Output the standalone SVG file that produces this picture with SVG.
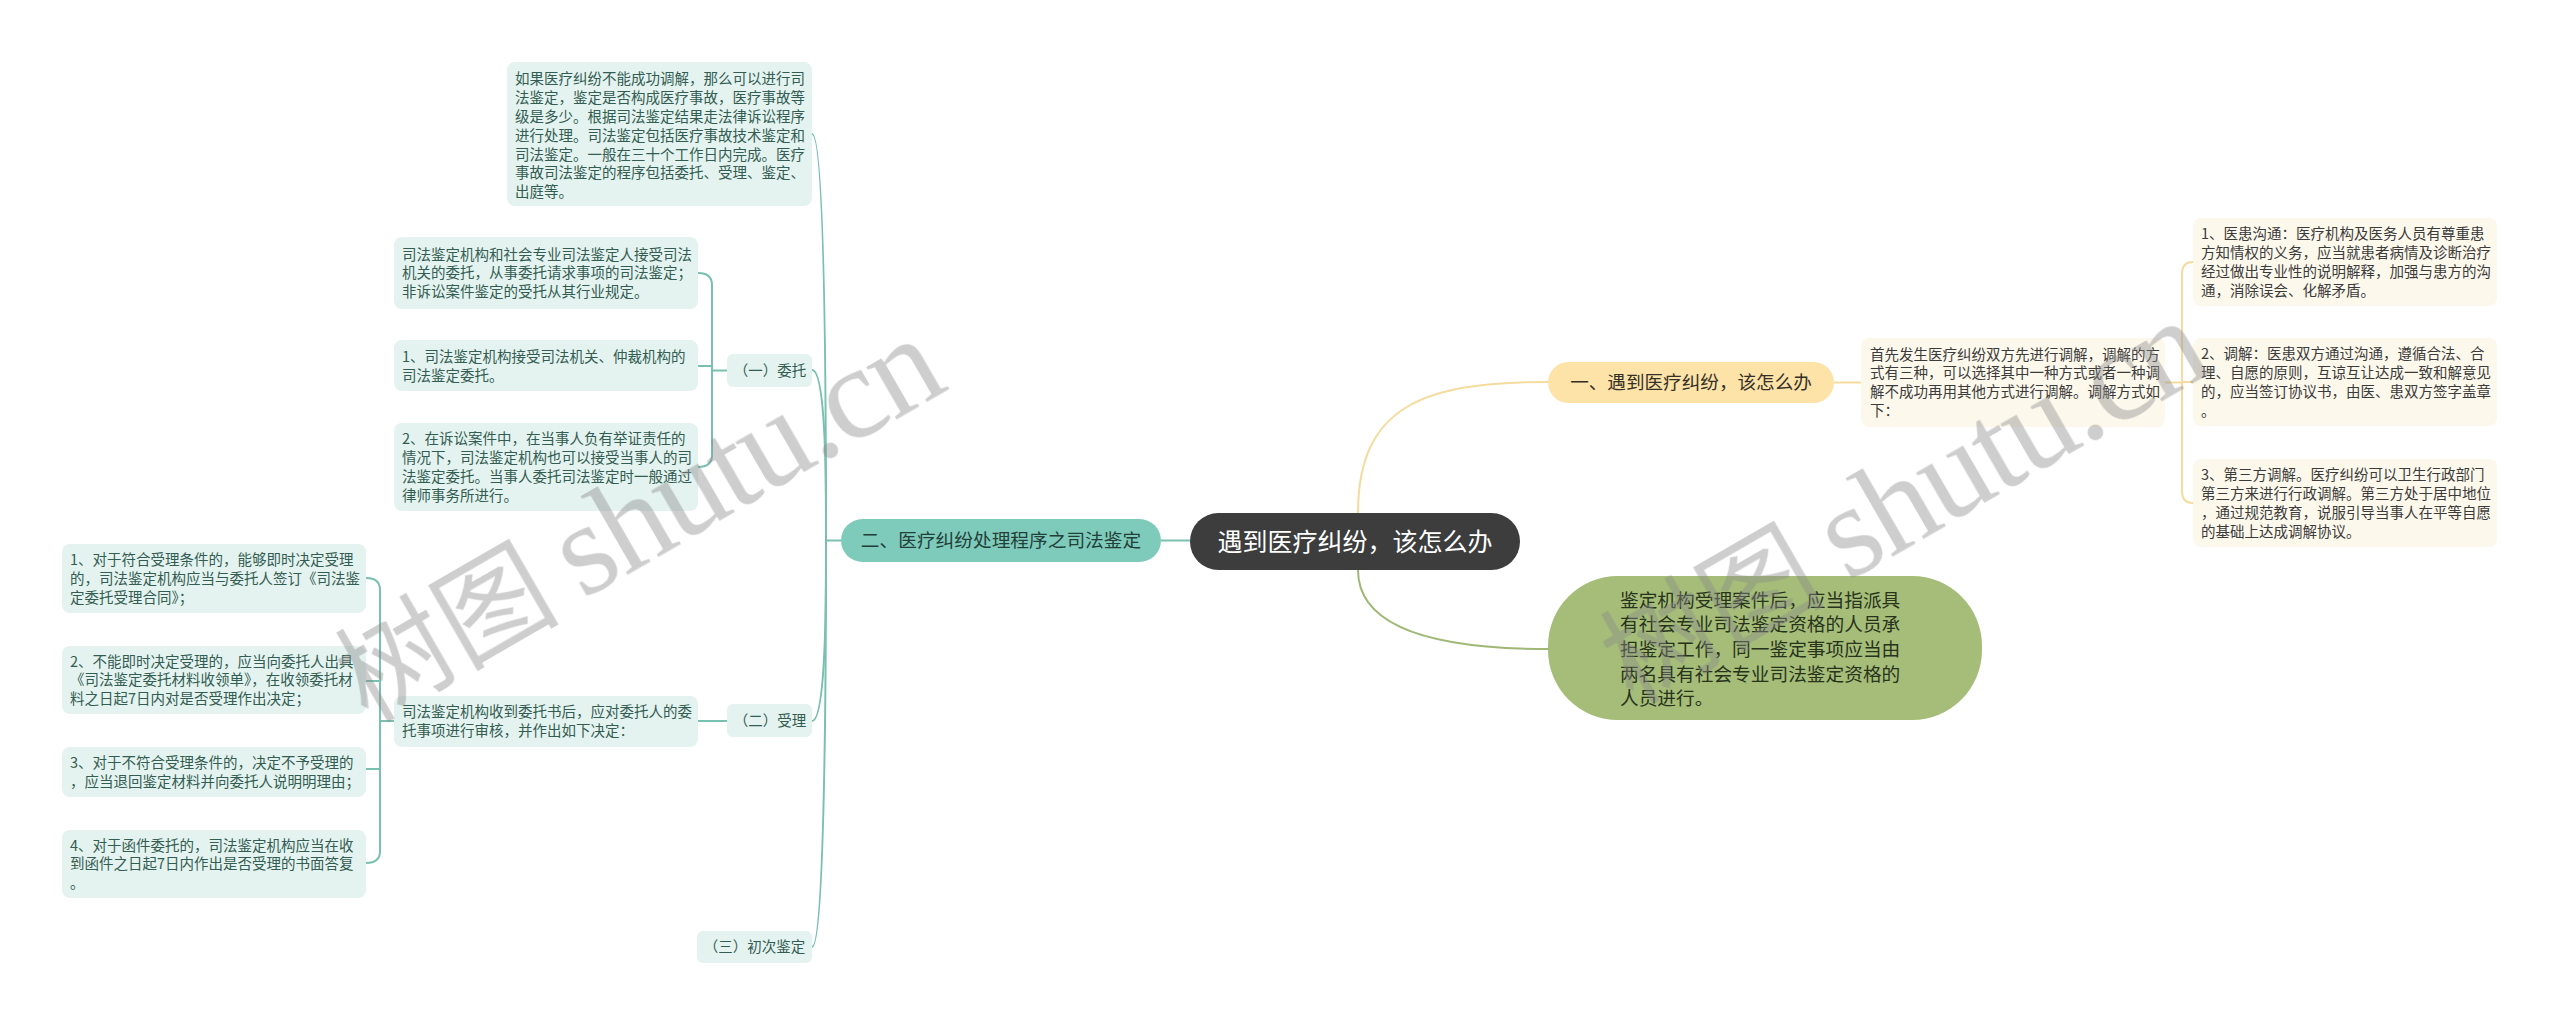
<svg xmlns="http://www.w3.org/2000/svg" width="2560" height="1026" viewBox="0 0 2560 1026">
<style>
text{font-family:"Noto Sans CJK SC","Noto Sans",sans-serif;}
.lk{fill:none;stroke:#79c0b0;stroke-width:2;}
.ly{fill:none;stroke:#f5dc9e;stroke-width:2;}
.lg{fill:none;stroke:#9fb876;stroke-width:2;}
.ln{fill:#e4f3ef;}
.lt{font-size:14.5px;fill:#335c52;}
.rn{fill:#fdf8ec;}
.rt{font-size:14.5px;fill:#3b3b3b;}
.wm{fill:#8a8a8a;opacity:.42;}
.wl{font-family:"Liberation Serif",serif;font-size:132px;}
.wc{font-size:112px;}
</style>
<rect width="2560" height="1026" fill="#ffffff"/>
<g id="connectors">
<path class="lk" d="M1161,540.5 H1190"/>
<path class="lk" d="M841,540.5 H826"/>
<path class="lk" d="M826,540 C826,460 826,134 812,134"/>
<path class="lk" d="M826,540 C826,500 827,370 812,370"/>
<path class="lk" d="M826,540 C826,580 827,721 812,721"/>
<path class="lk" d="M826,540 C826,620 826,947 812,947"/>
<path class="lk" d="M727,370.5 H712"/>
<path class="lk" d="M698,273 Q712,273 712,285 L712,455 Q712,467 698,467"/>
<path class="lk" d="M698,366 H712"/>
<path class="lk" d="M727,721 H698"/>
<path class="lk" d="M394,721 H380"/>
<path class="lk" d="M366,578 Q380,578 380,590 L380,851 Q380,863 366,863"/>
<path class="lk" d="M366,681 H380"/>
<path class="lk" d="M366,769 H380"/>
<path class="ly" d="M1358,513 C1358,405 1425,382 1548,382"/>
<path class="ly" d="M1834,382.5 H1861"/>
<path class="ly" d="M2165,382.5 H2182"/>
<path class="ly" d="M2193,262 Q2182,262 2182,274 L2182,491 Q2182,503 2193,503"/>
<path class="ly" d="M2182,382 H2193"/>
<path class="lg" d="M1358,570 C1358,615 1405,649 1548,649"/>
</g>
<g id="root">
<rect x="1190" y="513" width="330" height="57" rx="28.5" fill="#3d3d3d"/>
<text x="1355" y="550.7" font-size="25" fill="#ffffff" text-anchor="middle">遇到医疗纠纷，该怎么办</text>
</g>
<g id="b2">
<rect x="841" y="519" width="320" height="43" rx="21.5" fill="#7fcbbb"/>
<text x="1001" y="547.4" font-size="18.7" fill="#233f39" text-anchor="middle">二、医疗纠纷处理程序之司法鉴定</text>
</g>
<g id="n-top">
<rect class="ln" x="507" y="62" width="305" height="144" rx="8"/>
<text class="lt" x="515" y="84.4"><tspan x="515">如果医疗纠纷不能成功调解，那么可以进行司</tspan><tspan x="515" dy="18.8">法鉴定，鉴定是否构成医疗事故，医疗事故等</tspan><tspan x="515" dy="18.8">级是多少。根据司法鉴定结果走法律诉讼程序</tspan><tspan x="515" dy="18.8">进行处理。司法鉴定包括医疗事故技术鉴定和</tspan><tspan x="515" dy="18.8">司法鉴定。一般在三十个工作日内完成。医疗</tspan><tspan x="515" dy="18.8">事故司法鉴定的程序包括委托、受理、鉴定、</tspan><tspan x="515" dy="18.8">出庭等。</tspan></text>
</g>
<g id="n-weituo">
<rect class="ln" x="727" y="354" width="85" height="33" rx="6"/>
<text class="lt" x="770" y="375.8" text-anchor="middle">（一）委托</text>
</g>
<g id="n-wt-a">
<rect class="ln" x="394" y="237" width="304" height="72" rx="8"/>
<text class="lt" x="402" y="259.5"><tspan x="402">司法鉴定机构和社会专业司法鉴定人接受司法</tspan><tspan x="402" dy="18.8">机关的委托，从事委托请求事项的司法鉴定；</tspan><tspan x="402" dy="18.8">非诉讼案件鉴定的受托从其行业规定。</tspan></text>
</g>
<g id="n-wt-b">
<rect class="ln" x="394" y="340" width="304" height="51" rx="8"/>
<text class="lt" x="402" y="361.9"><tspan x="402">1、司法鉴定机构接受司法机关、仲裁机构的</tspan><tspan x="402" dy="18.8">司法鉴定委托。</tspan></text>
</g>
<g id="n-wt-c">
<rect class="ln" x="394" y="423" width="304" height="88" rx="8"/>
<text class="lt" x="402" y="444.1"><tspan x="402">2、在诉讼案件中，在当事人负有举证责任的</tspan><tspan x="402" dy="18.8">情况下，司法鉴定机构也可以接受当事人的司</tspan><tspan x="402" dy="18.8">法鉴定委托。当事人委托司法鉴定时一般通过</tspan><tspan x="402" dy="18.8">律师事务所进行。</tspan></text>
</g>
<g id="n-shouli">
<rect class="ln" x="727" y="704" width="85" height="33" rx="6"/>
<text class="lt" x="770" y="725.8" text-anchor="middle">（二）受理</text>
</g>
<g id="n-sl-d">
<rect class="ln" x="394" y="696" width="304" height="51" rx="8"/>
<text class="lt" x="402" y="717.4"><tspan x="402">司法鉴定机构收到委托书后，应对委托人的委</tspan><tspan x="402" dy="18.8">托事项进行审核，并作出如下决定：</tspan></text>
</g>
<g id="n-sl-1">
<rect class="ln" x="62" y="544" width="304" height="69" rx="8"/>
<text class="lt" x="70" y="565"><tspan x="70">1、对于符合受理条件的，能够即时决定受理</tspan><tspan x="70" dy="18.8">的，司法鉴定机构应当与委托人签订《司法鉴</tspan><tspan x="70" dy="18.8">定委托受理合同》；</tspan></text>
</g>
<g id="n-sl-2">
<rect class="ln" x="62" y="646" width="304" height="68" rx="8"/>
<text class="lt" x="70" y="666.5"><tspan x="70">2、不能即时决定受理的，应当向委托人出具</tspan><tspan x="70" dy="18.8">《司法鉴定委托材料收领单》，在收领委托材</tspan><tspan x="70" dy="18.8">料之日起7日内对是否受理作出决定；</tspan></text>
</g>
<g id="n-sl-3">
<rect class="ln" x="62" y="747" width="304" height="50" rx="8"/>
<text class="lt" x="70" y="767.9"><tspan x="70">3、对于不符合受理条件的，决定不予受理的</tspan><tspan x="70" dy="18.8">，应当退回鉴定材料并向委托人说明明理由；</tspan></text>
</g>
<g id="n-sl-4">
<rect class="ln" x="62" y="830" width="304" height="68" rx="8"/>
<text class="lt" x="70" y="850.5"><tspan x="70">4、对于函件委托的，司法鉴定机构应当在收</tspan><tspan x="70" dy="18.8">到函件之日起7日内作出是否受理的书面答复</tspan><tspan x="70" dy="18.8">。</tspan></text>
</g>
<g id="n-chuci">
<rect class="ln" x="697" y="931" width="115" height="32" rx="6"/>
<text class="lt" x="754.5" y="952.3" text-anchor="middle">（三）初次鉴定</text>
</g>
<g id="b1">
<rect x="1548" y="362" width="286" height="41" rx="20.5" fill="#fde3a7"/>
<text x="1691" y="389.4" font-size="18.6" fill="#353027" text-anchor="middle">一、遇到医疗纠纷，该怎么办</text>
</g>
<g id="n-r-main">
<rect class="rn" x="1861" y="338" width="304" height="89" rx="8"/>
<text class="rt" x="1870" y="359.6"><tspan x="1870">首先发生医疗纠纷双方先进行调解，调解的方</tspan><tspan x="1870" dy="18.8">式有三种，可以选择其中一种方式或者一种调</tspan><tspan x="1870" dy="18.8">解不成功再用其他方式进行调解。调解方式如</tspan><tspan x="1870" dy="18.8">下：</tspan></text>
</g>
<g id="n-r-1">
<rect class="rn" x="2193" y="218" width="304" height="88" rx="8"/>
<text class="rt" x="2201" y="239.1"><tspan x="2201">1、医患沟通：医疗机构及医务人员有尊重患</tspan><tspan x="2201" dy="18.8">方知情权的义务，应当就患者病情及诊断治疗</tspan><tspan x="2201" dy="18.8">经过做出专业性的说明解释，加强与患方的沟</tspan><tspan x="2201" dy="18.8">通，消除误会、化解矛盾。</tspan></text>
</g>
<g id="n-r-2">
<rect class="rn" x="2193" y="338" width="304" height="88" rx="8"/>
<text class="rt" x="2201" y="359.1"><tspan x="2201">2、调解：医患双方通过沟通，遵循合法、合</tspan><tspan x="2201" dy="18.8">理、自愿的原则，互谅互让达成一致和解意见</tspan><tspan x="2201" dy="18.8">的，应当签订协议书，由医、患双方签字盖章</tspan><tspan x="2201" dy="18.8">。</tspan></text>
</g>
<g id="n-r-3">
<rect class="rn" x="2193" y="459" width="304" height="88" rx="8"/>
<text class="rt" x="2201" y="480.1"><tspan x="2201">3、第三方调解。医疗纠纷可以卫生行政部门</tspan><tspan x="2201" dy="18.8">第三方来进行行政调解。第三方处于居中地位</tspan><tspan x="2201" dy="18.8">，通过规范教育，说服引导当事人在平等自愿</tspan><tspan x="2201" dy="18.8">的基础上达成调解协议。</tspan></text>
</g>
<g id="b3">
<rect x="1548" y="576" width="434" height="144" rx="70" fill="#a5bd78"/>
<text x="1620" y="606.7" font-size="18.7" fill="#28331c"><tspan x="1620">鉴定机构受理案件后，应当指派具</tspan><tspan x="1620" dy="24.6">有社会专业司法鉴定资格的人员承</tspan><tspan x="1620" dy="24.6">担鉴定工作，同一鉴定事项应当由</tspan><tspan x="1620" dy="24.6">两名具有社会专业司法鉴定资格的</tspan><tspan x="1620" dy="24.6">人员进行。</tspan></text>
</g>
<g id="watermarks" class="wm">
<g transform="translate(368,724) rotate(-30)">
<text class="wc" x="0" y="0">树图</text>
<text class="wl" x="248" y="0" textLength="425" lengthAdjust="spacing">shutu.cn</text>
</g>
<g transform="translate(1633,706) rotate(-30)">
<text class="wc" x="0" y="0">树图</text>
<text class="wl" x="248" y="0" textLength="425" lengthAdjust="spacing">shutu.cn</text>
</g>
</g>
</svg>
